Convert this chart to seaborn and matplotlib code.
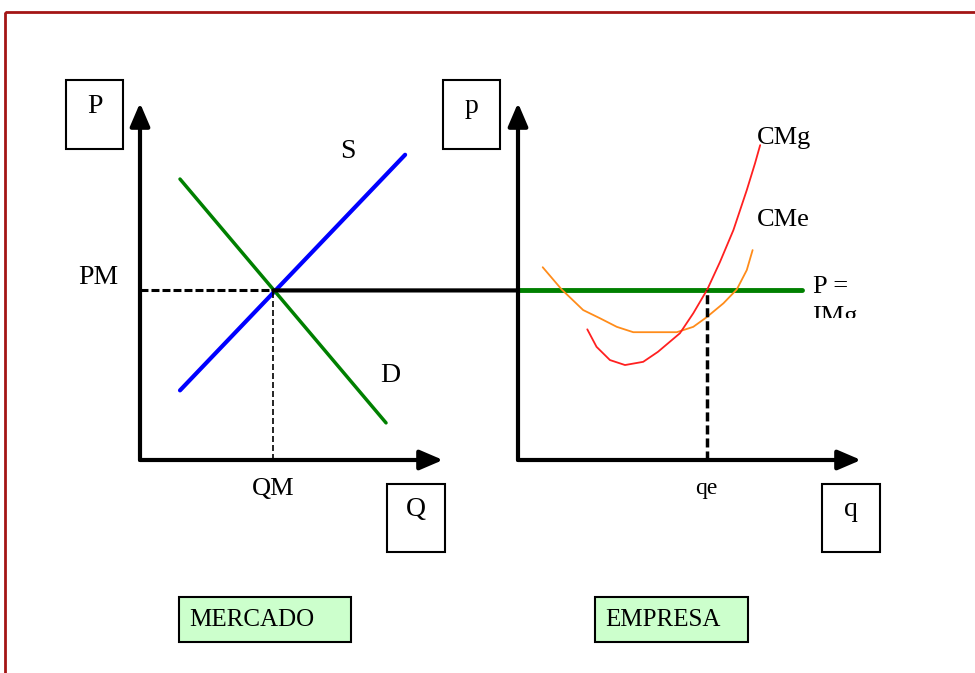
import matplotlib
matplotlib.use("Agg")
import matplotlib.pyplot as plt
import seaborn as sns
from matplotlib.patches import Rectangle, ConnectionPatch

# --- dados (unidades do diagrama, 0-10 em cada painel) ---
# Mercado: oferta (S) e demanda (D)
oferta_q = [1.32, 8.75]
oferta_p = [1.95, 8.55]
demanda_q = [1.32, 8.12]
demanda_p = [7.87, 1.04]
pm = 4.75          # preço de mercado
qm = 4.40          # quantidade de mercado

# Empresa: custo marginal (CMg) e custo médio (CMe)
cmg_q = [2.02, 2.29, 2.68, 3.12, 3.65, 4.08, 4.72, 5.11, 5.52, 5.89, 6.28, 6.67, 6.91, 7.06]
cmg_c = [3.66, 3.17, 2.80, 2.66, 2.75, 3.03, 3.55, 4.11, 4.78, 5.55, 6.44, 7.56, 8.31, 8.82]
cme_q = [0.72, 1.27, 1.90, 2.39, 2.88, 3.36, 4.63, 5.11, 5.50, 5.99, 6.38, 6.67, 6.84]
cme_c = [5.40, 4.78, 4.20, 3.97, 3.73, 3.58, 3.58, 3.73, 4.00, 4.39, 4.78, 5.32, 5.88]
linha_p_q = [0, 8.28]   # P = IMg
qe = 5.50

fonte = ["Liberation Serif", "DejaVu Serif"]

sns.set_style("white")
plt.rcParams["font.family"] = fonte
plt.rcParams["text.color"] = "black"

fig = plt.figure(figsize=(9.75, 6.73), dpi=100)

# camada de fundo em pixels, para moldura e caixas
deco = fig.add_axes([0, 0, 1, 1])
deco.set_xlim(0, 975)
deco.set_ylim(673, 0)
deco.axis("off")
deco.add_patch(Rectangle((5, 12), 985, 690, fill=False, edgecolor="#A31515", lw=2))

for (x0, y0, w, h, txt) in [(66, 80, 57, 69, "P"), (443, 80, 57, 69, "p"),
                            (387, 484, 58, 68, "Q"), (822, 484, 58, 68, "q")]:
    deco.add_patch(Rectangle((x0, y0), w, h, fill=False, edgecolor="black", lw=1.5))
    deco.text(x0 + w / 2, y0 + h / 2 - 8, txt, ha="center", va="center", fontsize=20)

for (x0, y0, w, h, txt) in [(179, 597, 172, 45, "MERCADO"), (595, 597, 153, 45, "EMPRESA")]:
    deco.add_patch(Rectangle((x0, y0), w, h, facecolor="#CCFFCC", edgecolor="black", lw=1.5))
    deco.text(x0 + 10, y0 + h / 2, txt, ha="left", va="center", fontsize=18)

# painel do mercado
ax1 = fig.add_axes([140 / 975, 1 - 460 / 673, 303 / 975, 357 / 673])
# painel da empresa
ax2 = fig.add_axes([518 / 975, 1 - 460 / 673, 343 / 975, 357 / 673])

for ax in (ax1, ax2):
    ax.set_xlim(0, 10)
    ax.set_ylim(0, 10)
    ax.axis("off")
    ax.patch.set_alpha(0)
    seta = dict(arrowstyle="-|>,head_length=0.7,head_width=0.3", lw=3, color="black",
                mutation_scale=20, shrinkA=0, shrinkB=0)
    ax.annotate("", xy=(0, 1), xytext=(0, 0), xycoords="axes fraction", arrowprops=seta)
    ax.annotate("", xy=(1, 0), xytext=(0, 0), xycoords="axes fraction", arrowprops=seta)

# mercado
sns.lineplot(x=oferta_q, y=oferta_p, ax=ax1, color="blue", lw=3, sort=False, estimator=None)
sns.lineplot(x=demanda_q, y=demanda_p, ax=ax1, color="green", lw=2.5, sort=False, estimator=None)
ax1.plot([0, qm], [pm, pm], color="black", lw=2.2, ls=(0, (2.6, 1.0)))
ax1.plot([qm, qm], [0, pm], color="black", lw=1.2, ls=(0, (3.6, 1.8)))

# linha de preço ligando os dois painéis
con = ConnectionPatch(xyA=(qm, pm), coordsA=ax1.transData, xyB=(0, pm), coordsB=ax2.transData,
                      color="black", lw=3)
fig.add_artist(con)

ax1.text(-0.139, pm, "PM", transform=ax1.get_yaxis_transform(), ha="center", va="bottom", fontsize=20)
ax1.text(qm, -0.08, "QM", transform=ax1.get_xaxis_transform(), ha="center", va="center", fontsize=19)
ax1.text(6.86, 8.63, "S", ha="center", va="center", fontsize=20)
ax1.text(8.25, 2.38, "D", ha="center", va="center", fontsize=20)

# empresa
sns.lineplot(x=linha_p_q, y=[pm, pm], ax=ax2, color="green", lw=3.5, sort=False, estimator=None)
sns.lineplot(x=cme_q, y=cme_c, ax=ax2, color="#FF8C1A", lw=1.3, sort=False, estimator=None)
sns.lineplot(x=cmg_q, y=cmg_c, ax=ax2, color="#FF2020", lw=1.3, sort=False, estimator=None)
ax2.plot([qe, qe], [0, pm], color="black", lw=2.5, ls=(0, (2.6, 1.15)))

ax2.text(6.95, 9.02, "CMg", ha="left", va="center", fontsize=19)
ax2.text(6.95, 6.72, "CMe", ha="left", va="center", fontsize=19)
ax2.text(8.6, pm + 0.1, "P =", ha="left", va="center", fontsize=19)
ax2.text(qe, -0.08, "qe", transform=ax2.get_xaxis_transform(), ha="center", va="center", fontsize=17)

# "IMg" cortado pela caixa de texto original: só a metade de cima aparece
deco.text(812, 306, "IMg", ha="left", va="top", fontsize=19, zorder=1)
deco.add_patch(Rectangle((800, 318), 120, 30, facecolor="white", edgecolor="none", zorder=5))

fig.savefig("out.png", dpi=100)
